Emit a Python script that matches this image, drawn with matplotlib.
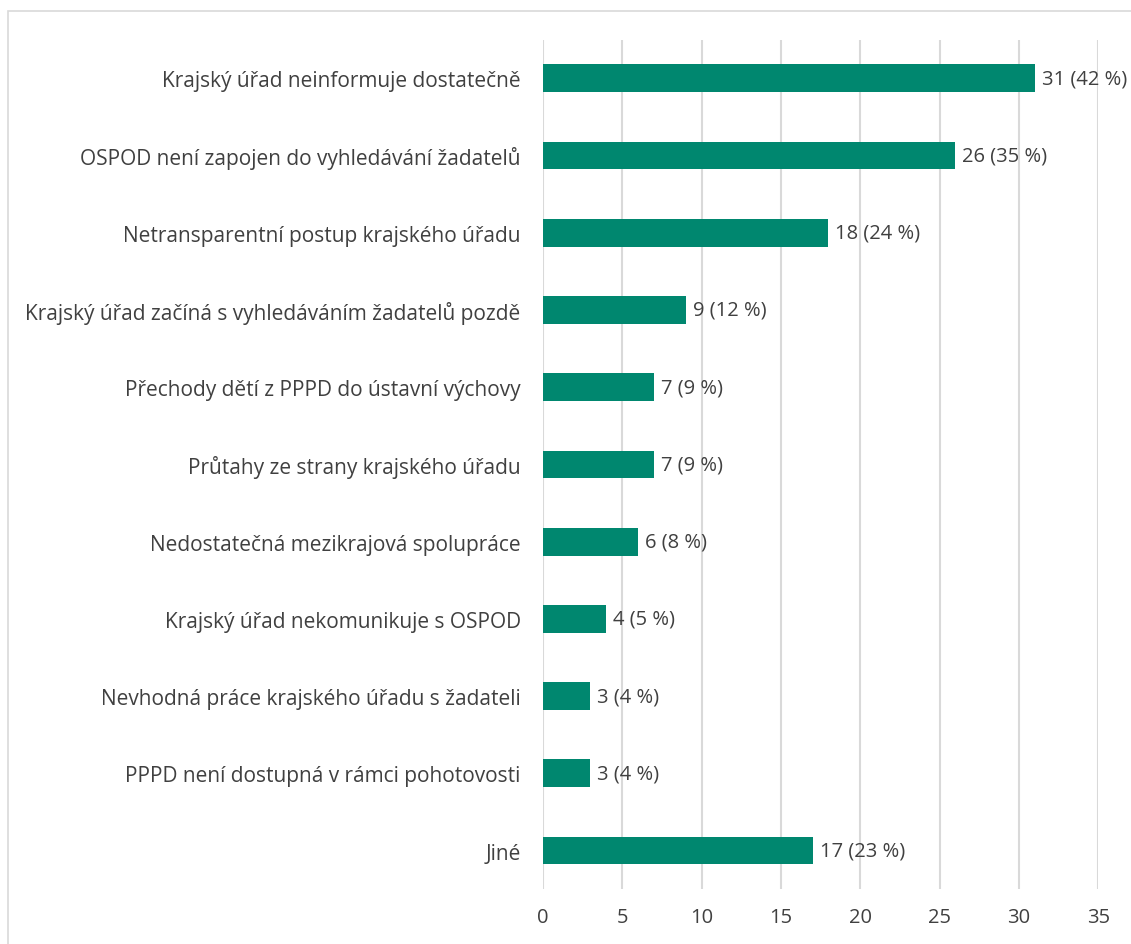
import matplotlib.pyplot as plt
from matplotlib.patches import Rectangle

categories = [
    'Krajský úřad neinformuje dostatečně',
    'OSPOD není zapojen do vyhledávání žadatelů',
    'Netransparentní postup krajského úřadu',
    'Krajský úřad začíná s vyhledáváním žadatelů pozdě',
    'Přechody dětí z PPPD do ústavní výchovy',
    'Průtahy ze strany krajského úřadu',
    'Nedostatečná mezikrajová spolupráce',
    'Krajský úřad nekomunikuje s OSPOD',
    'Nevhodná práce krajského úřadu s žadateli',
    'PPPD není dostupná v rámci pohotovosti',
    'Jiné',
]
counts = [31, 26, 18, 9, 7, 7, 6, 4, 3, 3, 17]
percents = [42, 35, 24, 12, 9, 9, 8, 5, 4, 4, 23]

bar_color = '#00876F'
text_color = '#404040'
grid_color = '#D9D9D9'

plt.rcParams['font.family'] = ['Open Sans', 'DejaVu Sans']

fig = plt.figure(figsize=(11.31, 9.45), dpi=100)
ax = fig.add_axes([0.480, 0.058, 0.491, 0.899])

y = list(range(len(categories)))
ax.barh(y, counts, height=0.36, color=bar_color, zorder=3)
for yi, c, p in zip(y, counts, percents):
    ax.annotate(f'{c} ({p} %)', (c, yi), xytext=(5, 0), textcoords='offset points',
                va='center', ha='left', fontsize=14.5, color=text_color)

ax.set_yticks(y)
ax.set_yticklabels(categories, fontsize=15)
ax.set_ylim(len(categories) - 0.5, -0.5)
ax.set_xlim(0, 35)
ax.set_xticks(range(0, 36, 5))
ax.tick_params(axis='both', length=0, labelcolor=text_color)
ax.tick_params(axis='x', labelsize=14.5, pad=13)
ax.tick_params(axis='y', pad=16)
ax.grid(axis='x', color=grid_color, linewidth=1.5, zorder=0)
for s in ax.spines.values():
    s.set_visible(False)

fig.patches.append(Rectangle((0.0071, -0.1), 1.1, 1.087, transform=fig.transFigure,
                             fill=False, edgecolor=grid_color, linewidth=1.2))

fig.savefig('out.png', dpi=100)
